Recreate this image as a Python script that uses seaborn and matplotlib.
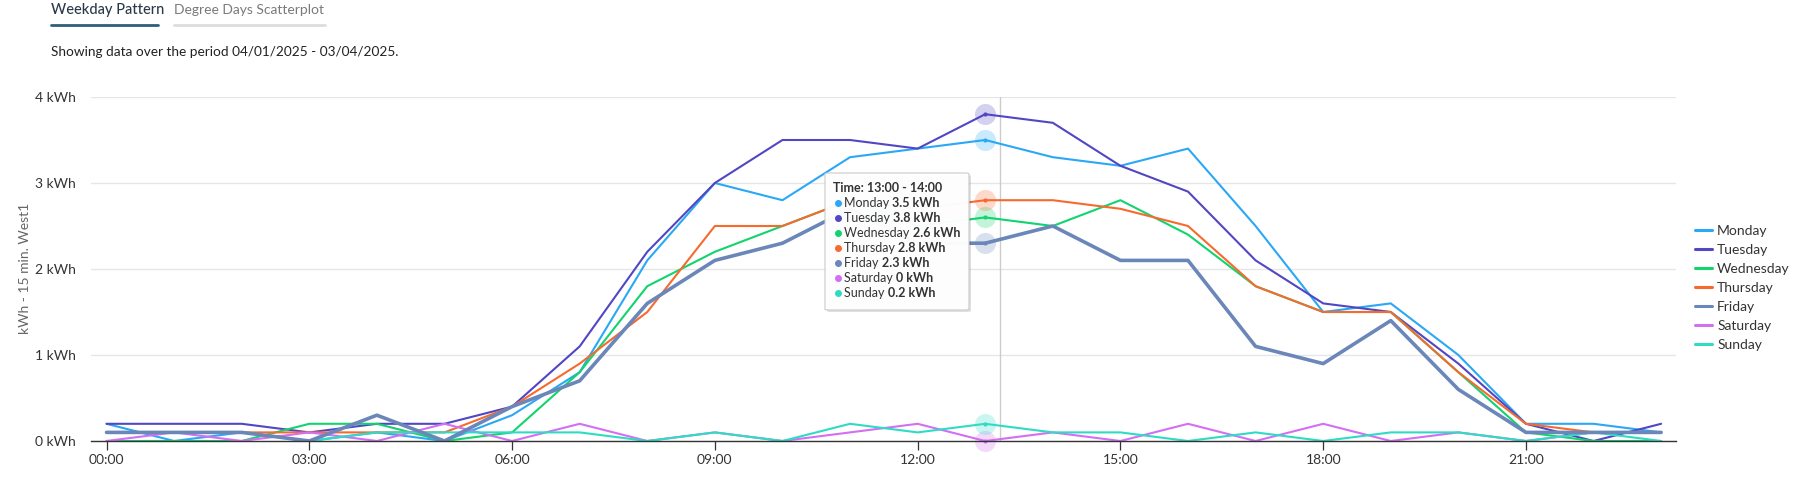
import matplotlib
matplotlib.use("Agg")
import matplotlib.pyplot as plt
import seaborn as sns
import pandas as pd
from matplotlib.lines import Line2D
from matplotlib.patches import FancyBboxPatch

# ---------------- data ----------------
hours = list(range(24))
days = ["Monday", "Tuesday", "Wednesday", "Thursday", "Friday", "Saturday", "Sunday"]
monday    = [0.2, 0.0, 0.1, 0.0, 0.1, 0.0, 0.3, 0.8, 2.1, 3.0, 2.8, 3.3, 3.4, 3.5, 3.3, 3.2, 3.4, 2.5, 1.5, 1.6, 1.0, 0.2, 0.2, 0.1]
tuesday   = [0.2, 0.2, 0.2, 0.1, 0.2, 0.2, 0.4, 1.1, 2.2, 3.0, 3.5, 3.5, 3.4, 3.8, 3.7, 3.2, 2.9, 2.1, 1.6, 1.5, 0.9, 0.2, 0.0, 0.2]
wednesday = [0.0, 0.0, 0.0, 0.2, 0.2, 0.0, 0.1, 0.8, 1.8, 2.2, 2.5, 2.8, 2.5, 2.6, 2.5, 2.8, 2.4, 1.8, 1.5, 1.5, 0.8, 0.1, 0.0, 0.0]
thursday  = [0.1, 0.1, 0.1, 0.1, 0.1, 0.1, 0.4, 0.9, 1.5, 2.5, 2.5, 2.8, 2.7, 2.8, 2.8, 2.7, 2.5, 1.8, 1.5, 1.5, 0.8, 0.2, 0.1, 0.1]
friday    = [0.1, 0.1, 0.1, 0.0, 0.3, 0.0, 0.4, 0.7, 1.6, 2.1, 2.3, 2.7, 2.3, 2.3, 2.5, 2.1, 2.1, 1.1, 0.9, 1.4, 0.6, 0.1, 0.1, 0.1]
saturday  = [0.0, 0.1, 0.0, 0.1, 0.0, 0.2, 0.0, 0.2, 0.0, 0.1, 0.0, 0.1, 0.2, 0.0, 0.1, 0.0, 0.2, 0.0, 0.2, 0.0, 0.1, 0.0, 0.1, 0.1]
sunday    = [0.1, 0.1, 0.1, 0.0, 0.1, 0.1, 0.1, 0.1, 0.0, 0.1, 0.0, 0.2, 0.1, 0.2, 0.1, 0.1, 0.0, 0.1, 0.0, 0.1, 0.1, 0.0, 0.1, 0.0]
series = [monday, tuesday, wednesday, thursday, friday, saturday, sunday]
colors = ["#2aa8f5", "#5146c4", "#12d46e", "#f76a2e", "#6b87b9", "#d36ff3", "#2fdbc4"]
x_ticks = [0, 3, 6, 9, 12, 15, 18, 21]
x_tick_labels = ["00:00", "03:00", "06:00", "09:00", "12:00", "15:00", "18:00", "21:00"]
y_ticks = [0, 1, 2, 3, 4]
y_tick_labels = ["0 kWh", "1 kWh", "2 kWh", "3 kWh", "4 kWh"]
hover_hour = 13
tooltip_title = "Time: 13:00 - 14:00"
tab_active = "Weekday Pattern"
tab_other = "Degree Days Scatterplot"
subtitle = "Showing data over the period 04/01/2025 - 03/04/2025."
y_label = "kWh - 15 min. West1"

df = pd.DataFrame({
    "hour": hours * len(days),
    "value": sum(series, []),
    "day": [d for d in days for _ in hours],
})

# ---------------- figure ----------------
W, H = 1812, 494
sns.set_theme(style="white")
plt.rcParams["font.family"] = ["Lato", "DejaVu Sans"]

fig = plt.figure(figsize=(W / 100, H / 100), dpi=100)
def fx(x):
    return x / W
def fy(y):
    return 1 - y / H

ax = fig.add_axes([fx(91), fy(441), fx(1676) - fx(91), fy(97) - fy(441)])

palette = dict(zip(days, colors))
widths = {d: 1.5 for d in days}
widths["Friday"] = 2.6
for d in days:
    sub = df[df["day"] == d]
    sns.lineplot(data=sub, x="hour", y="value", color=palette[d], linewidth=widths[d],
                 ax=ax, legend=False, zorder=5 if d == "Friday" else 3)

# hover markers
hov = df[df["hour"] == hover_hour]
for d in days:
    r = hov[hov["day"] == d]
    ax.scatter(r["hour"], r["value"], s=230, color=palette[d], alpha=0.25, linewidths=0,
               zorder=6, clip_on=False)
    ax.scatter(r["hour"], r["value"], s=9, color=palette[d], linewidths=0, zorder=7, clip_on=False)

# crosshair
ax.axvline(13.22, color="#cccccc", lw=1.0, zorder=2)

ax.set_xlim(-0.23, 23.22)
ax.set_ylim(0, 4)
ax.set_xticks(x_ticks)
ax.set_xticklabels(x_tick_labels)
ax.set_yticks(y_ticks)
ax.set_yticklabels(y_tick_labels)
ax.set_xlabel("")
ax.set_ylabel("")
ax.grid(axis="y", color="#e6e6e6", lw=1.0)
ax.grid(axis="x", visible=False)
for s in ["top", "right", "left"]:
    ax.spines[s].set_visible(False)
ax.spines["bottom"].set_color("#333333")
ax.spines["bottom"].set_linewidth(1.0)
ax.spines["bottom"].set_zorder(8)
ax.tick_params(axis="x", length=6.5, width=0.9, color="#333333", pad=3,
               labelsize=10, labelcolor="#333333", bottom=True)
ax.tick_params(axis="y", length=0, pad=11, labelsize=10, labelcolor="#333333")

fig.text(fx(25), fy(268), y_label, rotation=90, ha="center", va="center",
         fontsize=10, color="#666666")

# legend
handles = [Line2D([0], [0], color=c, lw=2.2) for c in colors]
fig.legend(handles, days, loc="upper left", bbox_to_anchor=(fx(1695), fy(225)),
           frameon=False, fontsize=10, handlelength=1.2, handletextpad=0.4,
           labelspacing=0.5, borderpad=0, borderaxespad=0, labelcolor="#333333")

# tabs and subtitle
fig.text(fx(51), fy(10), tab_active, ha="left", va="center", fontsize=10.5,
         color="#2b3a4a", weight="medium")
fig.add_artist(Line2D([fx(51), fx(158)], [fy(25.5), fy(25.5)], color="#2f5e77", lw=2.0))
fig.text(fx(174), fy(10), tab_other, ha="left", va="center", fontsize=10,
         color="#7a7a7a")
fig.add_artist(Line2D([fx(174), fx(325)], [fy(25.5), fy(25.5)], color="#dddddd", lw=2.0))
fig.text(fx(51), fy(52), subtitle, ha="left", va="center", fontsize=9.8, color="#222222")

# tooltip
bx0, by0, bx1, by1 = 825, 173, 969, 310
shadow = FancyBboxPatch((fx(bx0 + 2), fy(by1 + 2)), fx(bx1) - fx(bx0), fy(by0) - fy(by1),
                        boxstyle="round,pad=0,rounding_size=0.002", transform=fig.transFigure,
                        facecolor="#000000", alpha=0.12, edgecolor="none", zorder=20)
box = FancyBboxPatch((fx(bx0), fy(by1)), fx(bx1) - fx(bx0), fy(by0) - fy(by1),
                     boxstyle="round,pad=0,rounding_size=0.002", transform=fig.transFigure,
                     facecolor="#ffffff", alpha=0.97, edgecolor="#c8c8c8", lw=0.8, zorder=21)
fig.add_artist(shadow)
fig.add_artist(box)
fig.text(fx(833), fy(187.5), tooltip_title, ha="left", va="center", fontsize=9,
         color="#333333", weight="bold", zorder=22)
renderer = fig.canvas.get_renderer()
for i, d in enumerate(days):
    yy = 202.6 + 15.1 * i
    fig.add_artist(Line2D([fx(837.5)], [fy(yy)], marker="o", ms=4, color=colors[i],
                          linestyle="none", zorder=22))
    t = fig.text(fx(844), fy(yy), d + " ", ha="left", va="center", fontsize=9,
                 color="#333333", zorder=22)
    ext = t.get_window_extent(renderer=renderer)
    val = hov[hov["day"] == d]["value"].iloc[0]
    vtxt = f"{val:g} kWh"
    fig.text(ext.x1 / W, fy(yy), vtxt, ha="left", va="center", fontsize=9,
             color="#333333", weight="bold", zorder=22)

fig.savefig("out.png", dpi=100)
